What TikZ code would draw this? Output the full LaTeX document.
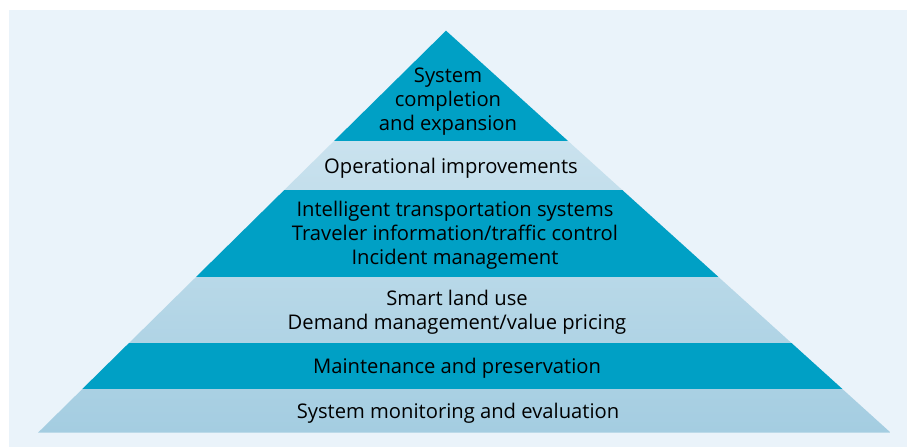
\documentclass[tikz,border=0pt]{standalone}
\usepackage{fontspec}
\setmainfont{Open Sans}
\usepackage{tikz}
\usetikzlibrary{positioning}

\definecolor{pagebg}{RGB}{234,243,250}
\definecolor{banddark}{RGB}{0,160,197}
\definecolor{bandtop}{RGB}{216,234,243}
\definecolor{bandbot}{RGB}{164,205,225}

\tikzset{
    tier/.style={align=center, inner sep=0pt, text=black,
        font=\fontsize{20.2}{23.8}\selectfont},
}

\begin{document}
\begin{tikzpicture}[x=1pt, y=-1pt]
    \useasboundingbox (0,0) rectangle (914,447);

    % Background
    \fill[pagebg] (9,10) rectangle (907,447);

    % Pyramid outline, light tiers shaded top to bottom
    \coordinate (apex) at (446,30.7);
    \coordinate (baseL) at (38,432.7);
    \coordinate (baseR) at (890.7,432.7);
    \shade[top color=bandtop, bottom color=bandbot]
        (apex) -- (baseL) -- (baseR) -- cycle;

    % Dark tiers
    \begin{scope}
        \clip (apex) -- (baseL) -- (baseR) -- cycle;
        \fill[banddark] (0,0) rectangle (914,140.7);
        \fill[banddark] (0,190) rectangle (914,276.7);
        \fill[banddark] (0,342.7) rectangle (914,388.7);
    \end{scope}

    % Labels
    \node[tier] (expansion) at (448,101.5) {System\\completion\\and expansion};
    \node[tier] (operational) at (451,168) {Operational improvements};
    \node[tier] (its) at (455,235) {Intelligent transportation systems\\Traveler information/traffic control\\Incident management};
    \node[tier] (landuse) at (457,312.5) {Smart land use\\Demand management/value pricing};
    \node[tier] (maintenance) at (457,368) {Maintenance and preservation};
    \node[tier] (monitoring) at (458,413.5) {System monitoring and evaluation};
\end{tikzpicture}
\end{document}
